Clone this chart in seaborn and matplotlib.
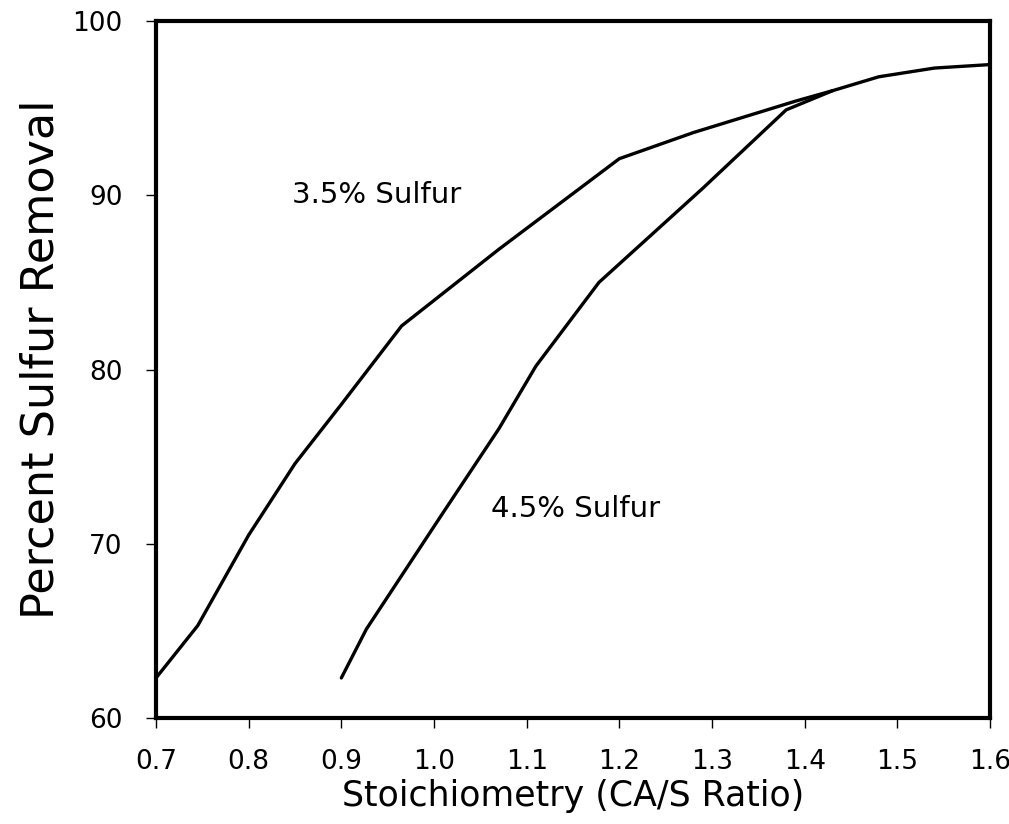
import numpy as np
import pandas as pd
import matplotlib
matplotlib.use("Agg")
import matplotlib.pyplot as plt
import seaborn as sns

# Data
x_35 = [0.70, 0.745, 0.80, 0.85, 0.90, 0.965, 1.07, 1.20, 1.28, 1.39, 1.43, 1.48, 1.54, 1.60]
y_35 = [62.3, 65.3, 70.5, 74.6, 78.0, 82.5, 86.9, 92.1, 93.6, 95.4, 96.0, 96.8, 97.3, 97.5]
x_45 = [0.90, 0.927, 1.01, 1.07, 1.11, 1.178, 1.29, 1.38, 1.43]
y_45 = [62.3, 65.1, 71.8, 76.6, 80.2, 85.0, 90.4, 94.9, 96.0]
series_labels = ["3.5% Sulfur", "4.5% Sulfur"]
label_pos = [(0.847, 90.0), (1.062, 72.0)]
x_ticks = [0.7, 0.8, 0.9, 1.0, 1.1, 1.2, 1.3, 1.4, 1.5, 1.6]
y_ticks = [60, 70, 80, 90, 100]

sns.set_style("ticks")
plt.rcParams['font.family'] = ['DejaVu Sans']
plt.rcParams['text.color'] = 'black'
plt.rcParams['axes.labelcolor'] = 'black'

fig = plt.figure(figsize=(10.09, 8.24), dpi=100)
ax = fig.add_axes([0.1546, 0.1286, 0.9812 - 0.1546, 0.9745 - 0.1286])

df35 = pd.DataFrame({"x": x_35, "y": y_35})
df45 = pd.DataFrame({"x": x_45, "y": y_45})
sns.lineplot(data=df35, x="x", y="y", color="black", linewidth=2.4, sort=False, ax=ax)
sns.lineplot(data=df45, x="x", y="y", color="black", linewidth=2.4, sort=False, ax=ax)

for lab, (lx, ly) in zip(series_labels, label_pos):
    ax.text(lx, ly, lab, fontsize=21, va="center", ha="left", color="black")

ax.set_xlim(0.7, 1.6)
ax.set_ylim(60, 100)
ax.set_xticks(x_ticks)
ax.set_xticklabels([f"{v:.1f}" for v in x_ticks])
ax.set_yticks(y_ticks)
ax.set_yticklabels([str(v) for v in y_ticks])
ax.tick_params(axis="both", direction="out", length=7, width=1, labelsize=19, colors="black")
ax.tick_params(axis="x", pad=15)
ax.tick_params(axis="y", pad=17)
for s in ax.spines.values():
    s.set_linewidth(3)
    s.set_color("black")

ax.set_xlabel("Stoichiometry (CA/S Ratio)", fontsize=25, labelpad=3)
ax.set_ylabel("Percent Sulfur Removal", fontsize=32)
ax.yaxis.set_label_coords(-0.112, 0.515)

fig.savefig("out.png", dpi=100)
